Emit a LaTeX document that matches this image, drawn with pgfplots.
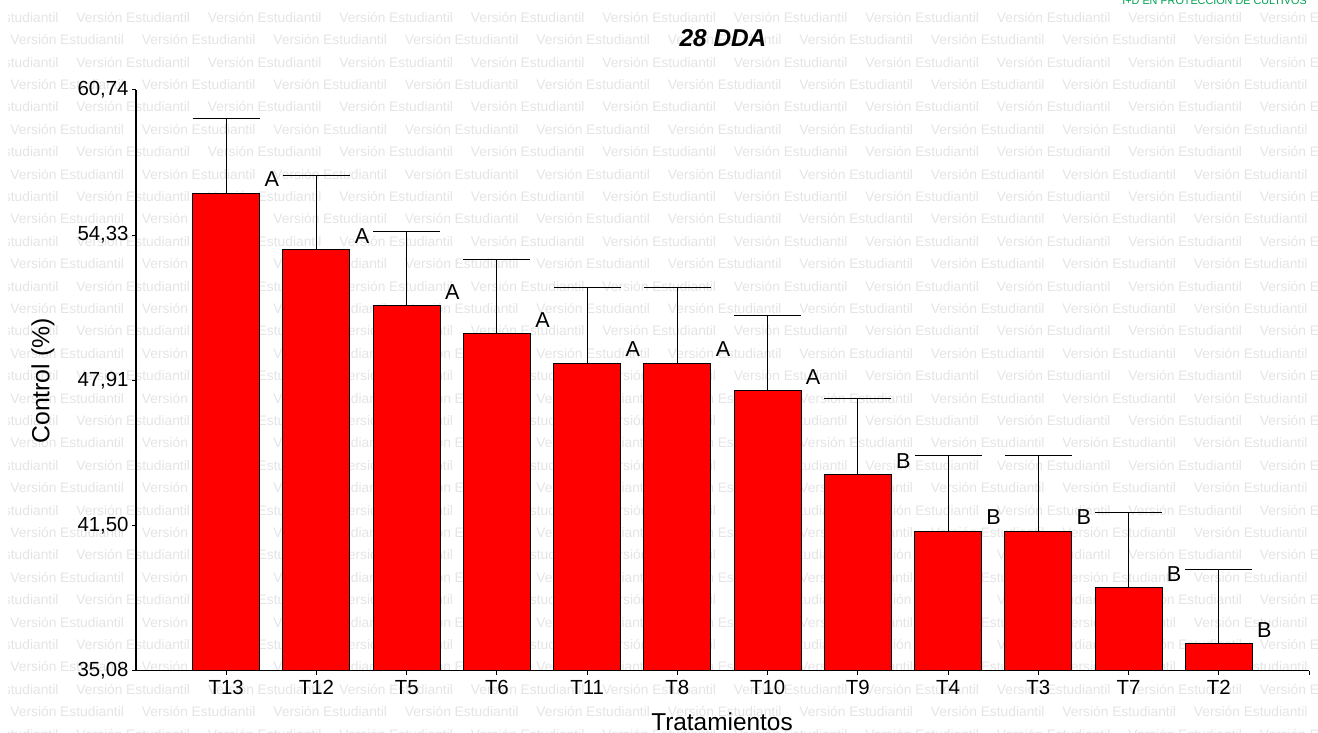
\documentclass[border=0pt]{standalone}
\usepackage{fontspec}
\setmainfont{Liberation Sans}
\newfontfamily\wmfont{Liberation Sans}
\usepackage{pgfplots}
\usepackage{pgfplotstable}
\pgfplotsset{compat=1.18}
\definecolor{wm}{RGB}{228,228,228}
\definecolor{logogreen}{RGB}{0,160,80}

\pgfplotstableread{
x name v e lab
0 T13 56.18 3.29 A
1 T12 53.67 3.31 A
2 T5 51.20 3.28 A
3 T6 49.96 3.31 A
4 T11 48.66 3.34 A
5 T8 48.66 3.34 A
6 T10 47.45 3.33 A
7 T9 43.73 3.36 B
8 T4 41.25 3.32 B
9 T3 41.25 3.32 B
10 T7 38.75 3.31 B
11 T2 36.26 3.31 B
}\data

\begin{document}
\begin{tikzpicture}
\useasboundingbox (0,0) rectangle (659pt,366.5pt);
% watermark
\begin{scope}
\clip (4pt,0) rectangle (659pt,366.5pt);
\begin{scope}[shift={(0pt,366.5pt)}, x=0.5pt, y=-0.5pt]
\foreach \k in {0,...,32} {
  \pgfmathsetmacro\yy{17.3+22.4*\k+5}
  \pgfmathsetmacro\ph{mod(\k,2)==1 ? 10 : -55.5}
  \foreach \j in {0,...,10} {
    \node[anchor=base west, inner sep=0pt, text=wm, font=\wmfont\fontsize{6.9}{8}\selectfont] at ({\ph+131.5*\j},\yy) {Versión Estudiantil};
  }
}
\end{scope}
\end{scope}
\node[anchor=base west, inner sep=0pt, text=logogreen, font=\fontsize{5.4}{6}\selectfont] at (561pt,364pt) {I+D EN PROTECCION DE CULTIVOS};

\begin{axis}[
  at={(68pt,31.15pt)}, anchor=south west,
  scale only axis, width=586.5pt, height=290.35pt,
  xmin=-1, xmax=12, ymin=35.08, ymax=60.74,
  axis x line*=bottom, axis y line*=left,
  axis line style={-, line width=0.6pt, black},
  xtick={0,...,12},
  xticklabels={T13,T12,T5,T6,T11,T8,T10,T9,T4,T3,T7,T2,{}},
  ytick={35.08,41.50,47.91,54.33,60.74},
  yticklabels={{35,08},{41,50},{47,91},{54,33},{60,74}},
  tick align=outside, major tick length=2pt,
  tick style={black, line width=0.5pt},
  ticklabel style={font=\fontsize{10.2}{12}\selectfont},
  xticklabel style={inner sep=1pt, yshift=-1.5pt},
  yticklabel style={inner sep=1.5pt},
]
\addplot[ybar, bar width=33.5pt, fill=red, draw=black, line width=0.5pt,
  error bars/.cd, y dir=plus, y explicit,
  error bar style={line width=0.5pt, black},
  error mark=|,
  error mark options={mark size=16.75pt, line width=0.5pt, black}]
  table[x=x, y=v, y error=e] {\data};
\addplot[draw=none, mark=none, nodes near coords, point meta=explicit symbolic,
  every node near coord/.append style={anchor=south west, inner sep=0pt, xshift=2.2pt, yshift=3pt, font=\fontsize{10.8}{13}\selectfont, text=black}]
  table[x expr=\thisrow{x}+0.372, y=v, meta=lab] {\data};
\end{axis}

\node at (361.5pt,347.5pt) {\fontsize{12.2}{14}\selectfont\bfseries\itshape 28 DDA};
\node[rotate=90] at (21.5pt,176pt) {\fontsize{12.4}{14}\selectfont Control (\%)};
\node at (361pt,5.5pt) {\fontsize{12.2}{14}\selectfont Tratamientos};
\end{tikzpicture}
\end{document}
